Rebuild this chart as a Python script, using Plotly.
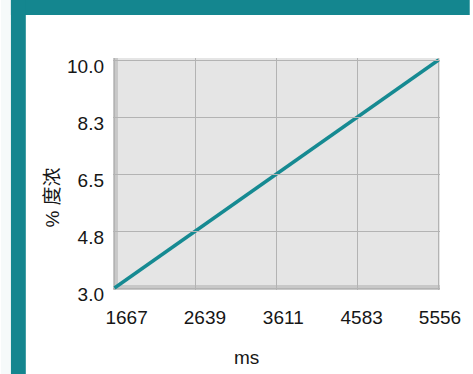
import plotly.graph_objects as go

# ---- data ----
x_vals = [1666.67, 5555.56]
y_vals = [3.0, 10.0]
x_ticks = [1666.67, 2638.89, 3611.11, 4583.33, 5555.56]
x_tick_labels = ["1667", "2639", "3611", "4583", "5556"]
y_ticks = [3.0, 4.75, 6.5, 8.25, 10.0]
y_tick_labels = ["3.0", "4.8", "6.5", "8.3", "10.0"]
x_title = "ms"
y_title = "% 度浓"

W, H = 473, 374
L, R, T, B = 113, 443, 58, 290   # plot area in pixels
TEAL = "#14868f"
LINE = "#168a92"
FONT = "Liberation Sans, Arial, Noto Sans CJK SC, sans-serif"
TXT = "#161616"

pw, ph = R - L, B - T
def px(p):  # pixel x -> paper
    return (p - L) / pw
def py(p):  # pixel y -> paper
    return (B - p) / ph

pad_x = (x_vals[1] - x_vals[0]) * 1.5 / (pw - 3)
pad_y = (y_vals[1] - y_vals[0]) * 2 / (ph - 4)

fig = go.Figure()
fig.add_trace(go.Scatter(x=x_vals, y=y_vals, mode="lines",
                         line=dict(color=LINE, width=3.4), showlegend=False,
                         hoverinfo="skip"))
# invisible companion trace so the label axis (x2) has a subplot
fig.add_trace(go.Scatter(x=x_vals, y=y_vals, mode="lines", xaxis="x2",
                         line=dict(color="rgba(0,0,0,0)", width=0),
                         showlegend=False, hoverinfo="skip"))

fig.update_layout(
    width=W, height=H,
    margin=dict(l=L, r=W - R, t=T, b=H - B),
    paper_bgcolor="white",
    plot_bgcolor="rgba(0,0,0,0)",
    font=dict(family=FONT, size=19, color=TXT),
    xaxis=dict(range=[x_vals[0] - pad_x, x_vals[1] + pad_x],
               tickvals=x_ticks, showticklabels=False,
               showgrid=True, gridcolor="#b3b3b3", gridwidth=1,
               zeroline=False, showline=False, ticks=""),
    xaxis2=dict(domain=[px(126.7), 1.0], anchor="y",
                range=[x_vals[0], x_vals[1]],
                tickvals=x_ticks, ticktext=x_tick_labels,
                showgrid=False, zeroline=False, showline=False, ticks="",
                ticklabelstandoff=14,
                tickfont=dict(family=FONT, size=19, color=TXT)),
    yaxis=dict(range=[y_vals[0] - pad_y, y_vals[1] + pad_y],
               tickvals=y_ticks, ticktext=y_tick_labels,
               showgrid=True, gridcolor="#b3b3b3", gridwidth=1,
               zeroline=False, showline=False, ticks="",
               ticklabelshift=6, ticklabelstandoff=8,
               tickfont=dict(family=FONT, size=19, color=TXT)),
    showlegend=False,
)

shapes = [
    # page frame
    dict(type="rect", xref="paper", yref="paper",
         x0=px(0), x1=px(10), y0=py(H), y1=py(0),
         fillcolor="#f6fafa", line=dict(width=0), layer="below"),
    dict(type="rect", xref="paper", yref="paper",
         x0=px(10), x1=px(W), y0=py(15), y1=py(0),
         fillcolor=TEAL, line=dict(width=0), layer="below"),
    dict(type="rect", xref="paper", yref="paper",
         x0=px(10), x1=px(25), y0=py(H), y1=py(0),
         fillcolor=TEAL, line=dict(width=0), layer="below"),
    # plot background
    dict(type="rect", xref="paper", yref="paper",
         x0=0, x1=1, y0=0, y1=1, fillcolor="#e5e5e5",
         line=dict(width=0), layer="below"),
    # grey axis bars inside plot area
    dict(type="rect", xref="paper", yref="paper",
         x0=0, x1=5 / pw, y0=0, y1=1, fillcolor="#c8c8c8",
         line=dict(width=0), layer="below"),
    dict(type="rect", xref="paper", yref="paper",
         x0=0, x1=1, y0=0, y1=5 / ph, fillcolor="#c8c8c8",
         line=dict(width=0), layer="below"),
]
fig.update_layout(shapes=shapes)

fig.add_annotation(text=x_title, xref="paper", yref="paper",
                   x=px(248), y=py(357), xanchor="center", yanchor="middle",
                   showarrow=False,
                   font=dict(family=FONT, size=19, color=TXT))
fig.add_annotation(text=y_title, xref="paper", yref="paper",
                   x=px(51), y=py(198), xanchor="center", yanchor="middle",
                   showarrow=False, textangle=-90,
                   font=dict(family=FONT, size=19, color=TXT))

fig.write_html("out.html", config={"displayModeBar": False},
               post_script="document.body.style.margin='0px';")
